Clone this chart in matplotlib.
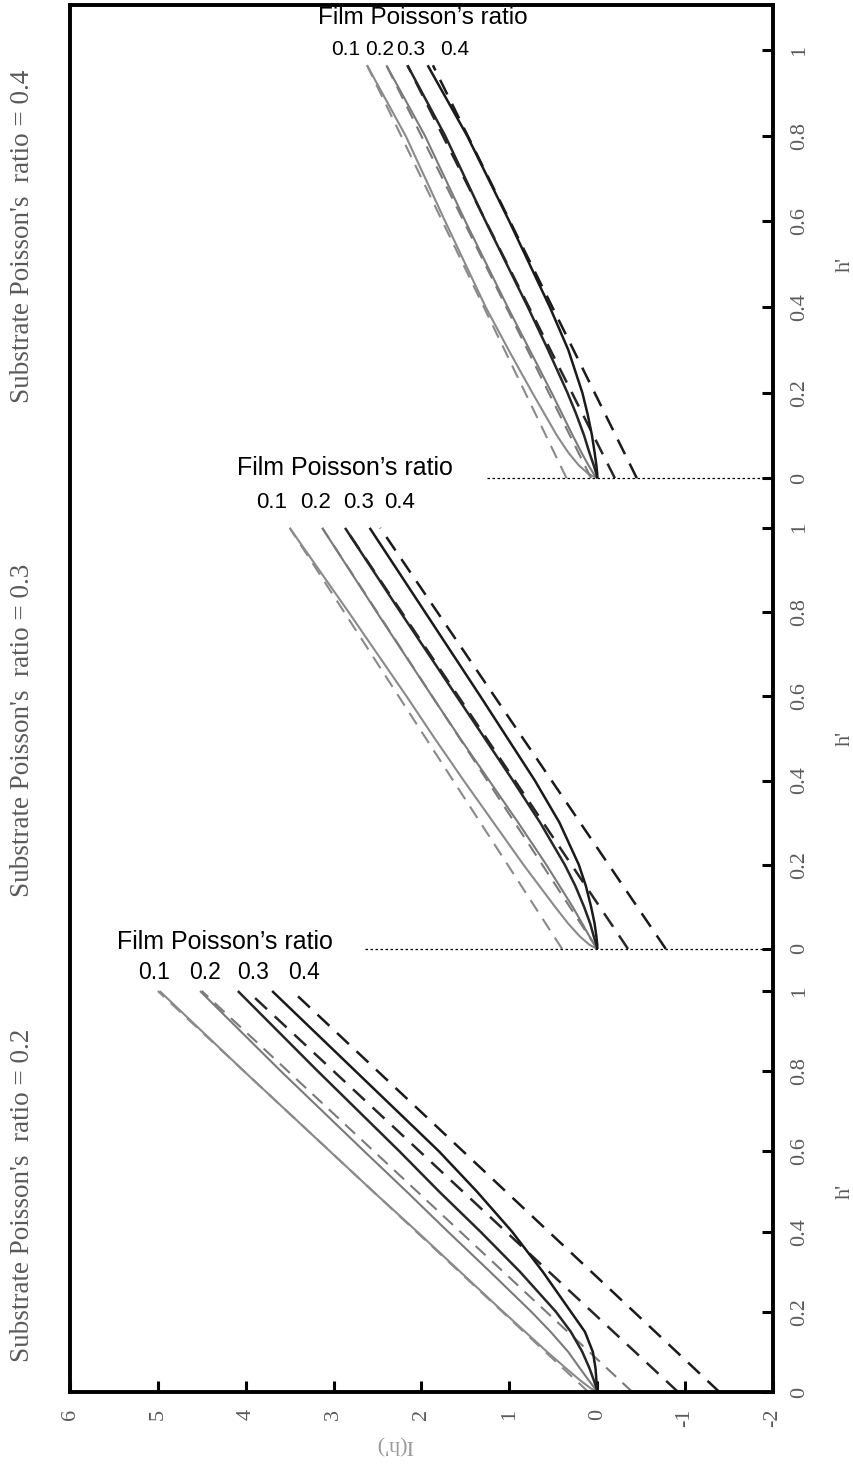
import matplotlib
matplotlib.use("Agg")
import matplotlib.pyplot as plt
import numpy as np

# ---------------- data ----------------
H_PTS = [0, 0.01, 0.03, 0.06, 0.1, 0.15, 0.2, 0.3, 0.4, 0.5, 0.6, 0.8, 1.0]
H_PTS_S04 = [0, 0.01, 0.03, 0.06, 0.1, 0.15, 0.2, 0.3, 0.4, 0.5, 0.6, 0.8, 0.965]
FILM_NU = ["0.1", "0.2", "0.3", "0.4"]
SUB_NU = ["0.2", "0.3", "0.4"]

# substrate 0.2 : solid curves I(h') for film 0.1..0.4
s02_f01 = [0, 0.08, 0.20, 0.36, 0.57, 0.82, 1.07, 1.56, 2.05, 2.55, 3.04, 4.02, 4.98]
s02_f02 = [0, 0.03, 0.10, 0.20, 0.33, 0.53, 0.75, 1.22, 1.70, 2.17, 2.65, 3.60, 4.52]
s02_f03 = [0, 0.01, 0.04, 0.09, 0.17, 0.30, 0.47, 0.88, 1.33, 1.80, 2.25, 3.18, 4.09]
s02_f04 = [0, 0.00, 0.01, 0.02, 0.05, 0.14, 0.30, 0.62, 0.97, 1.37, 1.80, 2.75, 3.70]
# asymptotes (value at first h', value at last h')
s02_asym = [(0.10, 5.00), (-0.40, 4.50), (-0.92, 3.98), (-1.39, 3.47)]

# substrate 0.3
s03_f01 = [0, 0.09, 0.20, 0.33, 0.48, 0.66, 0.84, 1.18, 1.52, 1.85, 2.17, 2.83, 3.50]
s03_f02 = [0, 0.03, 0.09, 0.17, 0.28, 0.43, 0.58, 0.90, 1.23, 1.56, 1.88, 2.51, 3.13]
s03_f03 = [0, 0.01, 0.04, 0.08, 0.15, 0.25, 0.37, 0.65, 0.96, 1.28, 1.60, 2.24, 2.87]
s03_f04 = [0, 0.00, 0.01, 0.03, 0.07, 0.13, 0.21, 0.43, 0.71, 1.02, 1.33, 1.96, 2.59]
s03_asym = [(0.40, 3.50), (0.00, 3.13), (-0.35, 2.87), (-0.78, 2.47)]

# substrate 0.4
s04_f01 = [0, 0.10, 0.21, 0.33, 0.46, 0.60, 0.74, 1.01, 1.27, 1.50, 1.73, 2.18, 2.62]
s04_f02 = [0, 0.04, 0.10, 0.18, 0.28, 0.40, 0.52, 0.77, 1.02, 1.26, 1.50, 1.96, 2.40]
s04_f03 = [0, 0.01, 0.04, 0.09, 0.15, 0.24, 0.34, 0.56, 0.79, 1.03, 1.27, 1.73, 2.16]
s04_f04 = [0, 0.00, 0.01, 0.03, 0.06, 0.11, 0.17, 0.33, 0.54, 0.77, 1.00, 1.48, 1.93]
s04_asym = [(0.35, 2.62), (0.07, 2.40), (-0.20, 2.16), (-0.45, 1.87)]

PANELS = [
    (H_PTS, [s02_f01, s02_f02, s02_f03, s02_f04], s02_asym),
    (H_PTS, [s03_f01, s03_f02, s03_f03, s03_f04], s03_asym),
    (H_PTS_S04, [s04_f01, s04_f02, s04_f03, s04_f04], s04_asym),
]
Y_TICKS = [6, 5, 4, 3, 2, 1, 0, -1, -2]
H_TICKS = [0, 0.2, 0.4, 0.6, 0.8, 1.0]
H_TICK_LABELS = ["0", "0.2", "0.4", "0.6", "0.8", "1"]

# ---------------- layout ----------------
PANEL_BASE = [0.0, 1.105, 2.279]
PANEL_SPAN = [1.0, 1.05, 1.067]
Y_TOP = 3.459
LINE_COLORS = ["#8a8a8a", "#7a7a7a", "#262626", "#1a1a1a"]
LINE_WIDTHS = [1.5, 1.5, 1.8, 1.8]
TICK_GRAY = "#5a5a5a"

fig = plt.figure(figsize=(8.54, 14.64), dpi=100)
ax = fig.add_axes([70 / 854, 72 / 1464, 703 / 854, 1387 / 1464])
ax.set_xlim(6, -2)
ax.set_ylim(0, Y_TOP)

serif = ["Liberation Serif", "DejaVu Serif"]
sans = ["Liberation Sans", "DejaVu Sans"]

for k, (hp, curves, asym) in enumerate(PANELS):
    H = np.array(hp)
    b, s = PANEL_BASE[k], PANEL_SPAN[k]
    for j, c in enumerate(curves):
        ax.plot(c, b + H * s, color=LINE_COLORS[j], lw=LINE_WIDTHS[j],
                solid_capstyle="butt")
        a0, a1 = asym[j]
        ax.plot([a0, a1], [b + H[0] * s, b + H[-1] * s], color=LINE_COLORS[j],
                lw=LINE_WIDTHS[j], dashes=(6.5, 4.2))

# dotted separators
ax.plot([2.64, -2], [PANEL_BASE[1]] * 2, color="black", lw=0.9, ls=(0, (2, 2)))
ax.plot([1.26, -2], [PANEL_BASE[2]] * 2, color="black", lw=0.9, ls=(0, (2, 2)))

# axes styling
for sp in ax.spines.values():
    sp.set_linewidth(2.8)
ax.set_xticks(Y_TICKS)
ax.set_xticklabels([str(v) if v >= 0 else "-" + str(-v) for v in Y_TICKS],
                   rotation=90, family=serif, fontsize=16, color=TICK_GRAY)
ax.tick_params(axis="x", direction="in", length=8, width=2.2, pad=12)

yt, yl = [], []
for k in range(3):
    for t, lab in zip(H_TICKS, H_TICK_LABELS):
        yt.append(PANEL_BASE[k] + t * PANEL_SPAN[k])
        yl.append(lab)
ax.set_yticks(yt)
ax.set_yticklabels(yl, rotation=90, family=serif, fontsize=16, color=TICK_GRAY,
                   va="center")
ax.yaxis.tick_right()
ax.tick_params(axis="y", direction="in", length=8, width=2.2, pad=12, left=False)

ax.set_xlabel("I(h')", rotation=180, family=serif, fontsize=16, color="#9a9a9a")
ax.xaxis.set_label_coords(0.462, -0.031)

sub_frac = [0.49, 0.52, 0.565]
for k in range(3):
    b, s = PANEL_BASE[k], PANEL_SPAN[k]
    ax.text(1.103, b + 0.5 * s, "h'", transform=ax.get_yaxis_transform(),
            rotation=90, family=serif, fontsize=16, color=TICK_GRAY,
            ha="center", va="center")
    ax.text(-0.068, b + sub_frac[k] * s, "Substrate Poisson's  ratio = " + SUB_NU[k],
            transform=ax.get_yaxis_transform(), rotation=90, family=serif,
            fontsize=19.5, color=TICK_GRAY, ha="center", va="center")

# film labels
title_pos = [(5.465, 1.122), (4.10, 2.304), (3.18, 3.426)]
title_fs = [18, 18, 17.5]
num_x = [[5.044, 4.464, 3.918, 3.337], [3.70, 3.21, 2.72, 2.245], [2.86, 2.48, 2.12, 1.62]]
num_y = [1.047, 2.219, 3.347]
num_fs = [16.5, 16, 15]
for k in range(3):
    tx, ty = title_pos[k]
    ax.text(tx, ty, "Film Poisson\u2019s ratio", family=sans, fontsize=title_fs[k],
            ha="left", va="center", color="black")
    for j in range(4):
        ax.text(num_x[k][j], num_y[k], FILM_NU[j], family=sans, fontsize=num_fs[k],
                ha="center", va="center", color="black")

fig.savefig("out.png", dpi=100)
